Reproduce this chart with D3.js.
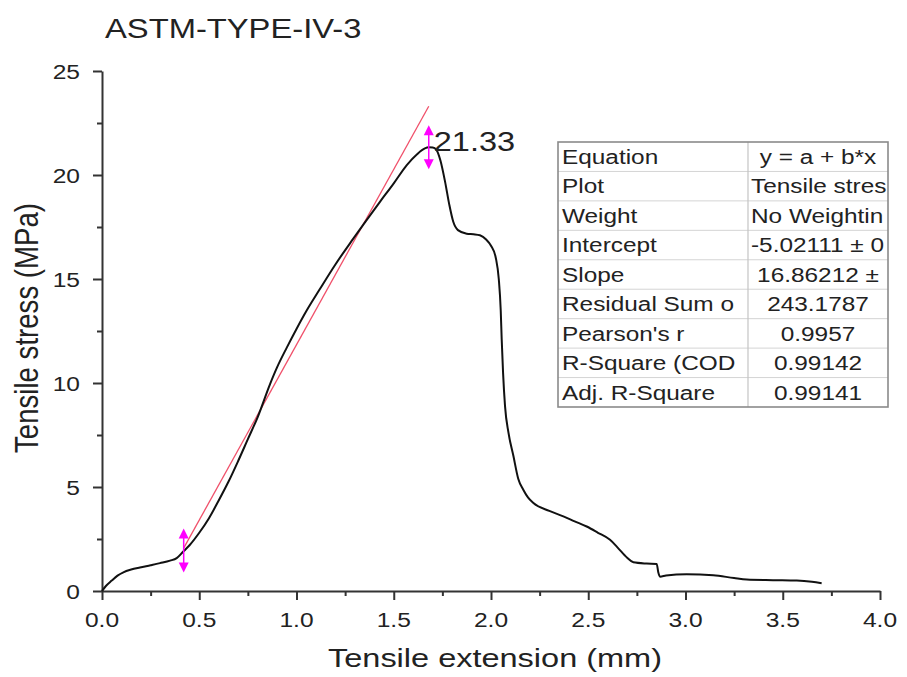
<!DOCTYPE html>
<html>
<head>
<meta charset="utf-8">
<script src="https://cdn.jsdelivr.net/npm/d3@7"></script>
<style>
  html, body { margin: 0; padding: 0; background: #fff; }
  svg { display: block; font-family: "Liberation Sans", Arial, sans-serif; }
</style>
</head>
<body>
<svg id="chart" width="907" height="677"></svg>
<script>
// ---------- data ----------
const chartTitle = "ASTM-TYPE-IV-3";
const xTitle = "Tensile extension (mm)";
const yTitle = "Tensile stress (MPa)";
const xTickValues = [0, 0.5, 1.0, 1.5, 2.0, 2.5, 3.0, 3.5, 4.0];
const xMinorTicks = [0.25, 0.75, 1.25, 1.75, 2.25, 2.75, 3.25, 3.75];
const yTickValues = [0, 5, 10, 15, 20, 25];
const yMinorTicks = [2.5, 7.5, 12.5, 17.5, 22.5];

const extension = [0.000, 0.020, 0.050, 0.080, 0.110, 0.150, 0.195, 0.250, 0.298, 0.350, 0.384, 0.418, 0.450, 0.500, 0.550, 0.600, 0.650, 0.700, 0.750, 0.800, 0.864, 0.900, 0.950, 1.000, 1.050, 1.121, 1.200, 1.292, 1.350, 1.429, 1.500, 1.567, 1.620, 1.660, 1.680, 1.700, 1.720, 1.740, 1.764, 1.785, 1.806, 1.830, 1.875, 1.910, 1.943, 1.975, 2.000, 2.025, 2.040, 2.050, 2.055, 2.062, 2.072, 2.090, 2.115, 2.140, 2.166, 2.190, 2.218, 2.300, 2.372, 2.430, 2.492, 2.550, 2.612, 2.650, 2.700, 2.732, 2.800, 2.852, 2.860, 2.869, 2.900, 3.006, 3.143, 3.250, 3.315, 3.450, 3.572, 3.650, 3.700];
const stress = [0.00, 0.24, 0.50, 0.74, 0.90, 1.03, 1.13, 1.24, 1.34, 1.46, 1.58, 1.90, 2.20, 2.80, 3.50, 4.35, 5.25, 6.25, 7.30, 8.35, 9.95, 10.75, 11.70, 12.60, 13.45, 14.53, 15.70, 16.94, 17.70, 18.71, 19.60, 20.48, 21.00, 21.28, 21.33, 21.32, 21.20, 20.70, 19.67, 18.60, 17.75, 17.35, 17.18, 17.15, 17.10, 16.90, 16.60, 16.00, 15.00, 13.50, 12.10, 10.50, 8.90, 7.60, 6.50, 5.40, 4.87, 4.50, 4.23, 3.85, 3.59, 3.35, 3.10, 2.80, 2.46, 2.10, 1.60, 1.38, 1.32, 1.30, 0.90, 0.69, 0.74, 0.80, 0.76, 0.62, 0.55, 0.52, 0.50, 0.44, 0.37];

const fitIntercept = -5.02111;
const fitSlope = 16.86212;
const fitRange = [0.42, 1.68];
const markerX = [0.42, 1.68];
const markerY = [1.95, 21.33];
const peakLabel = "21.33";

const tableLabels = ["Equation", "Plot", "Weight", "Intercept", "Slope", "Residual Sum o", "Pearson's r", "R-Square (COD", "Adj. R-Square"];
const tableValues = ["y = a + b*x", "Tensile stres", "No Weightin", "-5.02111 ± 0", "16.86212 ±", "243.1787", "0.9957", "0.99142", "0.99141"];

// ---------- drawing ----------
const svg = d3.select("#chart");
const x = d3.scaleLinear().domain([0, 4]).range([102, 880]);
const y = d3.scaleLinear().domain([0, 25]).range([591, 71]);
const textColor = "#222";
const axisColor = "#333";

function stretchedText(g, tx, ty, str, size, sx, anchor) {
  return g.append("text")
    .attr("transform", `translate(${tx},${ty}) scale(${sx},1)`)
    .attr("text-anchor", anchor)
    .attr("font-size", size)
    .attr("fill", textColor)
    .text(str);
}

// title
stretchedText(svg, 105, 38, chartTitle, 27.5, 1.19, "start");

// axes
const xAxis = svg.append("g").attr("transform", `translate(0,${y(0)})`)
  .call(d3.axisBottom(x).tickValues(xTickValues).tickSize(9).tickSizeOuter(0).tickFormat(() => ""));
const xMinor = svg.append("g").attr("transform", `translate(0,${y(0)})`)
  .call(d3.axisBottom(x).tickValues(xMinorTicks).tickSize(5).tickSizeOuter(0).tickFormat(() => ""));
const yAxis = svg.append("g").attr("transform", `translate(${x(0)},0)`)
  .call(d3.axisLeft(y).tickValues(yTickValues).tickSize(9).tickSizeOuter(0).tickFormat(() => ""));
const yMinor = svg.append("g").attr("transform", `translate(${x(0)},0)`)
  .call(d3.axisLeft(y).tickValues(yMinorTicks).tickSize(5).tickSizeOuter(0).tickFormat(() => ""));
[xAxis, xMinor, yAxis, yMinor].forEach(g => {
  g.selectAll("path, line").attr("stroke", axisColor).attr("stroke-width", 2);
});
xMinor.select(".domain").remove();
yMinor.select(".domain").remove();

// tick labels
const fmtX = d3.format(".1f");
xTickValues.forEach(v => stretchedText(svg, x(v), 627, fmtX(v), 21, 1.17, "middle"));
yTickValues.forEach(v => stretchedText(svg, 80, y(v) + 7.5, String(v), 21, 1.17, "end"));

// axis titles
svg.append("text")
  .attr("x", 495).attr("y", 667)
  .attr("text-anchor", "middle")
  .attr("font-size", 25.5)
  .attr("fill", textColor)
  .attr("textLength", 334).attr("lengthAdjust", "spacingAndGlyphs")
  .text(xTitle);
svg.append("text")
  .attr("transform", `translate(37.5,328) rotate(-90) scale(1,1.22)`)
  .attr("text-anchor", "middle")
  .attr("font-size", 27)
  .attr("fill", textColor)
  .attr("textLength", 250).attr("lengthAdjust", "spacingAndGlyphs")
  .text(yTitle);

// fit line
svg.append("line")
  .attr("x1", x(fitRange[0])).attr("y1", y(fitIntercept + fitSlope * fitRange[0]))
  .attr("x2", x(fitRange[1])).attr("y2", y(fitIntercept + fitSlope * fitRange[1]))
  .attr("stroke", "#f0506a").attr("stroke-width", 1.3);

// curve
const pts = extension.map((e, i) => [e, stress[i]]);
svg.append("path")
  .datum(pts)
  .attr("fill", "none")
  .attr("stroke", "#111")
  .attr("stroke-width", 2)
  .attr("stroke-linejoin", "round")
  .attr("d", d3.line().x(d => x(d[0])).y(d => y(d[1])).curve(d3.curveMonotoneX));

// magenta double arrows
const mag = "#ff00ff";
markerX.forEach((mx, i) => {
  const cx = x(mx), cy = y(markerY[i]);
  const g = svg.append("g");
  g.append("line").attr("x1", cx).attr("x2", cx).attr("y1", cy - 14).attr("y2", cy + 14)
    .attr("stroke", mag).attr("stroke-width", 1.5);
  g.append("path").attr("d", `M${cx},${cy - 22} L${cx - 5},${cy - 12} L${cx + 5},${cy - 12} Z`).attr("fill", mag);
  g.append("path").attr("d", `M${cx},${cy + 22} L${cx - 5},${cy + 12} L${cx + 5},${cy + 12} Z`).attr("fill", mag);
});

// peak label
stretchedText(svg, x(markerX[1]) + 5, y(markerY[1]) + 4, peakLabel, 28, 1.16, "start");

// table
const tX = 558, tY = 142, tW = 330, tH = 265, divX = 748;
const rowH = tH / tableLabels.length;
const table = svg.append("g");
const defs = svg.append("defs");
defs.append("clipPath").attr("id", "clipL").append("rect")
  .attr("x", tX).attr("y", tY).attr("width", divX - tX - 1).attr("height", tH);
defs.append("clipPath").attr("id", "clipR").append("rect")
  .attr("x", divX + 1).attr("y", tY).attr("width", tX + tW - divX - 2).attr("height", tH);
table.append("rect").attr("x", tX).attr("y", tY).attr("width", tW).attr("height", tH)
  .attr("fill", "#fff");
for (let i = 1; i < tableLabels.length; i++) {
  table.append("line").attr("x1", tX).attr("x2", tX + tW)
    .attr("y1", tY + rowH * i).attr("y2", tY + rowH * i)
    .attr("stroke", "#d4d4d4").attr("stroke-width", 1);
}
table.append("line").attr("x1", divX).attr("x2", divX).attr("y1", tY).attr("y2", tY + tH)
  .attr("stroke", "#c4c4c4").attr("stroke-width", 1.2);
table.append("rect").attr("x", tX).attr("y", tY).attr("width", tW).attr("height", tH)
  .attr("fill", "none").attr("stroke", "#8a8a8a").attr("stroke-width", 1.6);
const gl = table.append("g").attr("clip-path", "url(#clipL)");
const gr = table.append("g").attr("clip-path", "url(#clipR)");
const sT = 1.25, fT = 19.5;
const colW = tX + tW - divX;
tableLabels.forEach((lab, i) => {
  const by = tY + rowH * i + 22;
  stretchedText(gl, tX + 4, by, lab, fT, sT, "start");
  const t = stretchedText(gr, (divX + tX + tW) / 2, by, tableValues[i], fT, sT, "middle");
  const w = t.node().getComputedTextLength() * sT;
  if (w > colW - 8) {
    t.attr("transform", `translate(${divX + 3},${by}) scale(${sT},1)`).attr("text-anchor", "start");
  }
});
</script>
</body>
</html>
